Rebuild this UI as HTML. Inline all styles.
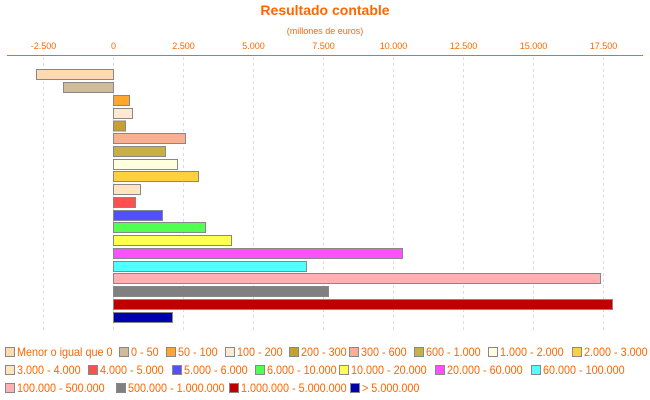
<!DOCTYPE html>
<html><head><meta charset="utf-8"><style>
body{margin:0;width:650px;height:400px;background:#fff;overflow:hidden;font-family:"Liberation Sans",sans-serif}
.it{position:absolute;font-size:12px;color:#f60;white-space:nowrap;height:14px;line-height:14px}
.it i{position:absolute;left:0;top:2px;width:8px;height:8px;border:1px solid #888}
.it b{position:absolute;left:12px;top:0;font-weight:normal;display:inline-block;transform:scaleX(0.9);transform-origin:left}
</style></head><body>
<svg width="650" height="400" style="position:absolute;left:0;top:0" font-family="Liberation Sans, sans-serif">
<text x="325" y="15" text-anchor="middle" font-size="14" font-weight="bold" fill="#f60">Resultado contable</text>
<text x="325" y="34" text-anchor="middle" font-size="9" fill="#f60">(millones de euros)</text>
<g font-size="9" fill="#f60" text-anchor="middle">
<text x="43.5" y="49">-2.500</text><text x="113.5" y="49">0</text><text x="183.5" y="49">2.500</text><text x="253.5" y="49">5.000</text><text x="323.5" y="49">7.500</text><text x="393.5" y="49">10.000</text><text x="463.5" y="49">12.500</text><text x="533.5" y="49">15.000</text><text x="603.5" y="49">17.500</text>
</g>
<g stroke="#ddd" stroke-dasharray="3,3">
<line x1="43.5" y1="57" x2="43.5" y2="332"/><line x1="183.5" y1="57" x2="183.5" y2="332"/><line x1="253.5" y1="57" x2="253.5" y2="332"/><line x1="323.5" y1="57" x2="323.5" y2="332"/><line x1="393.5" y1="57" x2="393.5" y2="332"/><line x1="463.5" y1="57" x2="463.5" y2="332"/><line x1="533.5" y1="57" x2="533.5" y2="332"/><line x1="603.5" y1="57" x2="603.5" y2="332"/><line x1="113.5" y1="57" x2="113.5" y2="332"/>
</g>
<line x1="7" y1="55.5" x2="643" y2="55.5" stroke="#f60" stroke-width="1"/>
<g stroke="#888" stroke-width="1">
<rect x="36.5" y="69.5" width="77" height="10" fill="#ffd9b0"/>
<rect x="63.5" y="82.5" width="50" height="10" fill="#d0bc9a"/>
<rect x="113.5" y="95.5" width="16" height="10" fill="#ffa530"/>
<rect x="113.5" y="108.5" width="19" height="10" fill="#ffe9d0"/>
<rect x="113.5" y="121" width="12" height="10" fill="#c8a030"/>
<rect x="113.5" y="133.5" width="72" height="10" fill="#f8b090"/>
<rect x="113.5" y="146.5" width="52" height="10" fill="#c8b048"/>
<rect x="113.5" y="159.5" width="64" height="10" fill="#ffffe0"/>
<rect x="113.5" y="171.5" width="85" height="10" fill="#ffd040"/>
<rect x="113.5" y="184.5" width="27" height="10" fill="#ffe4c0"/>
<rect x="113.5" y="197.5" width="22" height="10" fill="#ff5050"/>
<rect x="113.5" y="210.5" width="49" height="10" fill="#5050ff"/>
<rect x="113.5" y="222.5" width="92" height="10" fill="#50ff50"/>
<rect x="113.5" y="235.5" width="118" height="10" fill="#ffff50"/>
<rect x="113.5" y="248.5" width="289" height="10" fill="#ff50ff"/>
<rect x="113.5" y="261.5" width="193" height="10" fill="#50ffff"/>
<rect x="113.5" y="273.5" width="487" height="10" fill="#ffb0b0"/>
<rect x="113.5" y="286.5" width="215" height="10" fill="#808080"/>
<rect x="113.5" y="299.5" width="499" height="10" fill="#c00000"/>
<rect x="113.5" y="312.5" width="59" height="10" fill="#0000b0"/>
</g>
</svg>
<div class="it" style="top:345px;left:5px"><i style="background:#ffd9b0"></i><b>Menor o igual que 0</b></div>
<div class="it" style="top:345px;left:119px"><i style="background:#d0bc9a"></i><b>0 - 50</b></div>
<div class="it" style="top:345px;left:166px"><i style="background:#ffa530"></i><b>50 - 100</b></div>
<div class="it" style="top:345px;left:225px"><i style="background:#ffe9d0"></i><b>100 - 200</b></div>
<div class="it" style="top:345px;left:289px"><i style="background:#c8a030"></i><b>200 - 300</b></div>
<div class="it" style="top:345px;left:349px"><i style="background:#f8b090"></i><b>300 - 600</b></div>
<div class="it" style="top:345px;left:414px"><i style="background:#c8b048"></i><b>600 - 1.000</b></div>
<div class="it" style="top:345px;left:488px"><i style="background:#ffffe0"></i><b>1.000 - 2.000</b></div>
<div class="it" style="top:345px;left:572px"><i style="background:#ffd040"></i><b>2.000 - 3.000</b></div>
<div class="it" style="top:363px;left:5px"><i style="background:#ffe4c0"></i><b>3.000 - 4.000</b></div>
<div class="it" style="top:363px;left:88px"><i style="background:#ff5050"></i><b>4.000 - 5.000</b></div>
<div class="it" style="top:363px;left:172px"><i style="background:#5050ff"></i><b>5.000 - 6.000</b></div>
<div class="it" style="top:363px;left:255px"><i style="background:#50ff50"></i><b>6.000 - 10.000</b></div>
<div class="it" style="top:363px;left:339px"><i style="background:#ffff50"></i><b>10.000 - 20.000</b></div>
<div class="it" style="top:363px;left:435px"><i style="background:#ff50ff"></i><b>20.000 - 60.000</b></div>
<div class="it" style="top:363px;left:531px"><i style="background:#50ffff"></i><b>60.000 - 100.000</b></div>
<div class="it" style="top:381px;left:5px"><i style="background:#ffb0b0"></i><b>100.000 - 500.000</b></div>
<div class="it" style="top:381px;left:116px"><i style="background:#808080"></i><b>500.000 - 1.000.000</b></div>
<div class="it" style="top:381px;left:229px"><i style="background:#c00000"></i><b>1.000.000 - 5.000.000</b></div>
<div class="it" style="top:381px;left:350px"><i style="background:#0000b0"></i><b>&gt; 5.000.000</b></div>
</body></html>
